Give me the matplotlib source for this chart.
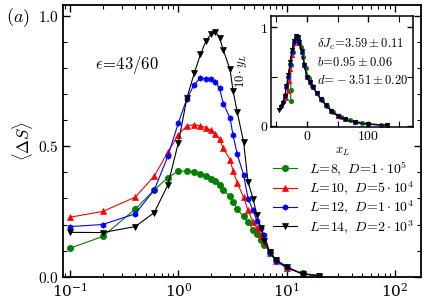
#!/usr/bin/env python3

import numpy as np
import matplotlib
matplotlib.use('Agg')
import matplotlib.pyplot as plt
from matplotlib.ticker import FixedLocator, NullFormatter, FormatStrFormatter, LogLocator

plt.rcParams['mathtext.fontset'] = 'cm'
plt.rcParams['font.family'] = 'serif'
plt.rcParams['font.serif'] = ['DejaVu Serif']

# main panel data: <Delta S> vs J
x_main = [0.1, 0.2, 0.4, 0.6, 0.8, 1.0, 1.2, 1.4, 1.6, 1.8, 2.0, 2.2, 2.4, 2.6,
          3.0, 3.2, 3.5, 4.0, 4.4, 4.9, 5.3, 5.8, 6.2, 7.0, 8.0, 10.0, 14.0, 20.0]

y_L8 = [0.109, 0.154, 0.259, 0.333, 0.380, 0.405, 0.405, 0.401, 0.395, 0.385, 0.373, 0.367,
        0.353, 0.331, 0.309, 0.288, 0.258, 0.231, 0.209, 0.180, 0.162, 0.142, 0.123, 0.096,
        0.062, 0.033, 0.013, 0.004]
y_L10 = [0.228, 0.250, 0.305, 0.386, 0.478, 0.545, 0.579, 0.583, 0.579, 0.572, 0.561, 0.548,
         0.528, 0.492, 0.449, 0.406, 0.360, 0.305, 0.254, 0.209, 0.187, 0.160, 0.138, 0.090,
         0.060, 0.034, 0.011, 0.003]
y_L12 = [0.192, 0.200, 0.241, 0.333, 0.462, 0.590, 0.683, 0.737, 0.763, 0.758, 0.758, 0.747,
         0.722, 0.664, 0.609, 0.542, 0.469, 0.391, 0.299, 0.254, 0.215, 0.187, 0.158, 0.092,
         0.060, 0.035, 0.010, 0.003]
y_L14 = [0.170, 0.169, 0.192, 0.246, 0.352, 0.514, 0.686, 0.780, 0.853, 0.905, 0.930, 0.940,
         0.917, 0.869, 0.795, 0.712, 0.630, 0.517, 0.363, 0.299, 0.235, 0.187, 0.138, 0.094,
         0.064, 0.038, 0.010, 0.003]

labels = [r'$L\!=\!8,\ D\!=\!1\cdot10^5$', r'$L\!=\!10,\ D\!=\!5\cdot10^4$',
          r'$L\!=\!12,\ D\!=\!1\cdot10^4$', r'$L\!=\!14,\ D\!=\!2\cdot10^3$']

# inset data: collapse 10*y_L vs x_L
xi_L8 = [-26, -26, -26, -22, -18, -14, -10, -6, -2, 3, 9, 16, 24, 33, 43, 55, 70, 90, 120]
yi_L8 = [0.25, 0.36, 0.62, 0.75, 0.87, 0.86, 0.80, 0.70, 0.59, 0.48, 0.40, 0.33, 0.26, 0.20,
         0.14, 0.09, 0.06, 0.03, 0.01]
xi_L10 = [-33, -31, -29, -27, -24, -21, -18, -15, -12, -8, -4, 0, 5, 10, 16, 23, 31, 40, 50,
          62, 78, 100, 130]
yi_L10 = [0.28, 0.35, 0.45, 0.58, 0.72, 0.84, 0.89, 0.89, 0.84, 0.75, 0.62, 0.50, 0.44,
          0.39, 0.33, 0.27, 0.21, 0.15, 0.10, 0.065, 0.035, 0.015, 0.005]
xi_L12 = [-42, -39, -36, -33, -30, -27, -24, -21, -18, -15, -12, -8, -4, 0, 5, 10, 16, 23,
          31, 40, 50, 62, 78, 100, 130]
yi_L12 = [0.20, 0.24, 0.30, 0.39, 0.50, 0.63, 0.75, 0.85, 0.90, 0.89, 0.84, 0.75, 0.62,
          0.50, 0.44, 0.39, 0.33, 0.27, 0.21, 0.15, 0.10, 0.065, 0.035, 0.015, 0.005]
xi_L14 = [-45, -42, -39, -36, -33, -30, -27, -24, -21, -18, -15, -12, -8, -4, 0, 5, 10, 16,
          23, 31, 40, 50, 62, 78, 100, 130]
yi_L14 = [0.16, 0.19, 0.23, 0.30, 0.40, 0.52, 0.65, 0.77, 0.86, 0.91, 0.90, 0.85, 0.76,
          0.62, 0.50, 0.44, 0.39, 0.33, 0.27, 0.21, 0.15, 0.10, 0.065, 0.035, 0.015, 0.005]


def style_axis(ax, lw):
    for s in ax.spines.values():
        s.set_linewidth(lw)
    ax.tick_params(which='both', direction='in', top=True, right=True)
    ax.tick_params(which='major', length=5, width=1.0)
    ax.tick_params(which='minor', length=3, width=0.8)


def main():
    fig = plt.figure(figsize=(4.31, 3.01), dpi=100)
    ax = fig.add_axes([0.146, 0.081, 0.831, 0.902])

    series = [(y_L8, 'green', 'o', 4.5), (y_L10, 'red', '^', 4.5),
              (y_L12, 'blue', 'h', 4.0), (y_L14, 'black', 'v', 4.5)]
    for (y, c, m, ms), lab in zip(series, labels):
        ax.plot(x_main, y, color=c, marker=m, ms=ms, lw=0.8, mec=c, mew=0.5, label=lab)

    ax.set_xscale('log')
    ax.set_xlim(0.086, 174)
    ax.set_ylim(0.0, 1.042)
    ax.xaxis.set_major_locator(LogLocator(base=10, numticks=10))
    ax.xaxis.set_minor_locator(LogLocator(base=10, subs=np.arange(2, 10), numticks=20))
    ax.xaxis.set_minor_formatter(NullFormatter())
    ax.yaxis.set_major_locator(FixedLocator([0.0, 0.5, 1.0]))
    ax.yaxis.set_minor_locator(FixedLocator(np.arange(0.1, 1.0, 0.1)))
    ax.yaxis.set_major_formatter(FormatStrFormatter(r'$%.1f$'))
    style_axis(ax, 1.3)
    ax.tick_params(labelsize=11)
    ax.tick_params(axis='x', pad=4)
    ax.tick_params(axis='y', pad=3)
    for t in ax.get_yticklabels():
        t.set_verticalalignment('center_baseline')

    ax.set_ylabel(r'$\langle\Delta S\rangle$', fontsize=12, labelpad=2)
    fig.text(0.015, 0.925, r'$(a)$', fontsize=13)
    ax.text(0.09, 0.765, r'$\epsilon\!=\!43/60$', transform=ax.transAxes, fontsize=12)

    ax.legend(loc='lower right', bbox_to_anchor=(1.005, 0.12), frameon=False,
              fontsize=10, handlelength=1.7, labelspacing=0.1, handletextpad=0.9,
              borderaxespad=0.2)

    # inset
    ins = fig.add_axes([0.629, 0.579, 0.330, 0.368])
    ins_series = [(xi_L8, yi_L8, 'green', 'o'), (xi_L10, yi_L10, 'red', '^'),
                  (xi_L12, yi_L12, 'blue', 'h'), (xi_L14, yi_L14, 'black', 'v')]
    for xs, ys, c, m in ins_series:
        ins.plot(xs, ys, color=c, marker=m, ms=3.3, lw=0.8, mec=c, mew=0.4)
    ins.set_xlim(-58, 173)
    ins.set_ylim(-0.01, 1.115)
    ins.xaxis.set_major_locator(FixedLocator([0, 100]))
    ins.xaxis.set_minor_locator(FixedLocator([-50, 50, 150]))
    ins.yaxis.set_major_locator(FixedLocator([0, 1]))
    ins.yaxis.set_minor_locator(FixedLocator([0.5]))
    ins.xaxis.set_major_formatter(FormatStrFormatter(r'$%d$'))
    ins.yaxis.set_major_formatter(FormatStrFormatter(r'$%d$'))
    style_axis(ins, 1.1)
    ins.tick_params(labelsize=10, pad=2)
    ins.tick_params(which='major', length=4)
    ins.tick_params(which='minor', length=4)
    ins.set_xlabel(r'$x_L$', fontsize=9, labelpad=1)
    ins.set_ylabel(r'$10\cdot y_L$', fontsize=9, labelpad=8)
    ins.text(0.32, 0.71, r'$\delta J_c\!=\!3.59\pm0.11$', transform=ins.transAxes, fontsize=9)
    ins.text(0.32, 0.55, r'$b\!=\!0.95\pm0.06$', transform=ins.transAxes, fontsize=9)
    ins.text(0.32, 0.39, r'$d\!=\!-3.51\pm0.20$', transform=ins.transAxes, fontsize=9)

    fig.savefig('out.png', dpi=100)


main()
